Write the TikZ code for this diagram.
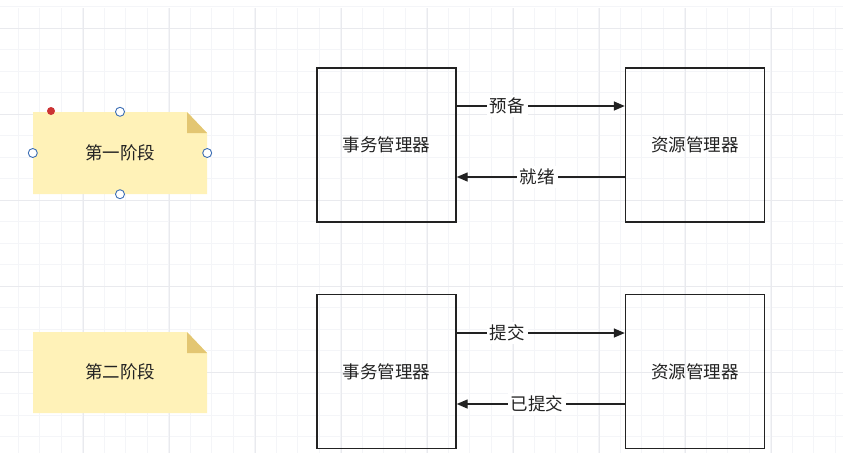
\documentclass[tikz,border=0pt]{standalone}
\usepackage{fontspec}
\setmainfont{Noto Sans CJK SC}
\usetikzlibrary{arrows.meta}
\definecolor{gridminor}{HTML}{F4F5F8}
\definecolor{gridmajor}{HTML}{E9EAEE}
\definecolor{noteyellow}{HTML}{FFF2B8}
\definecolor{notefold}{HTML}{E3C672}
\definecolor{handleblue}{HTML}{3C6EB4}
\definecolor{ink}{HTML}{222222}
\tikzset{
  box/.style={draw=ink, line width=1.4pt, minimum width=139pt, minimum height=154pt, inner sep=0pt, font=\fontsize{17.5}{20}\selectfont, text=ink},
  notetext/.style={minimum width=174pt, minimum height=82pt, inner sep=0pt, font=\fontsize{17.5}{20}\selectfont, text=ink},
  lbl/.style={fill=white, inner sep=3pt, font=\fontsize{17.5}{20}\selectfont, text=ink},
  conn/.style={draw=ink, line width=1.4pt, -{Triangle[length=11pt,width=9pt]}},
  handle/.style={draw=handleblue, fill=white, line width=0.9pt},
}
\begin{document}
\begin{tikzpicture}[x=1pt,y=-1pt]
\useasboundingbox (0,0) rectangle (843,453);
\fill[white] (0,0) rectangle (843,453);
% grid
\foreach \i in {0,...,39} {
  \draw[gridminor, line width=0.5pt] ({-3.5+21.5*\i},8) -- ({-3.5+21.5*\i},453);
}
\foreach \j in {0,...,21} {
  \draw[gridminor, line width=0.5pt] (0,{6.5+21.5*\j}) -- (843,{6.5+21.5*\j});
}
\foreach \i in {0,...,9} {
  \draw[gridmajor, line width=0.6pt] ({-3+86*\i},8) -- ({-3+86*\i},453);
}
\foreach \j in {0,...,5} {
  \draw[gridmajor, line width=0.6pt] (0,{28+86*\j}) -- (843,{28+86*\j});
}
% sticky notes
\fill[noteyellow] (33,112) -- (187,112) -- (207,133) -- (207,194) -- (33,194) -- cycle;
\fill[notefold] (187,112) -- (207,133) -- (187,133) -- cycle;
\fill[noteyellow] (33,332) -- (187,332) -- (207,353) -- (207,413) -- (33,413) -- cycle;
\fill[notefold] (187,332) -- (207,353) -- (187,353) -- cycle;
\node[notetext] (n1) at (120,153) {第一阶段};
\node[notetext] (n2) at (120,372) {第二阶段};
% selection handles
\draw[handle] (n1.north) circle (4.5);
\draw[handle] (n1.south) circle (4.5);
\draw[handle] (n1.west) circle (4.5);
\draw[handle] (n1.east) circle (4.5);
\fill[red!75!black!80] (51,111) circle (4);
% boxes
\node[box] (tm1) at (386.5,145) {事务管理器};
\node[box] (rm1) at (695,145) {资源管理器};
\node[box] (tm2) at (386.5,371.5) {事务管理器};
\node[box] (rm2) at (695,371.5) {资源管理器};
% connectors
\coordinate (a1s) at (tm1.east |- 0,106);
\coordinate (a1e) at (rm1.west |- 0,106);
\coordinate (b1s) at (rm1.west |- 0,177);
\coordinate (b1e) at (tm1.east |- 0,177);
\coordinate (a2s) at (tm2.east |- 0,333);
\coordinate (a2e) at (rm2.west |- 0,333);
\coordinate (b2s) at (rm2.west |- 0,404);
\coordinate (b2e) at (tm2.east |- 0,404);
\draw[conn] (a1s) -- (a1e);
\draw[conn] (b1s) -- (b1e);
\draw[conn] (a2s) -- (a2e);
\draw[conn] (b2s) -- (b2e);
\node[lbl] (l1) at (507,106) {预备};
\node[lbl] (l2) at (537,177) {就绪};
\node[lbl] (l3) at (507,333) {提交};
\node[lbl] (l4) at (537,404) {已提交};
\end{tikzpicture}
\end{document}
